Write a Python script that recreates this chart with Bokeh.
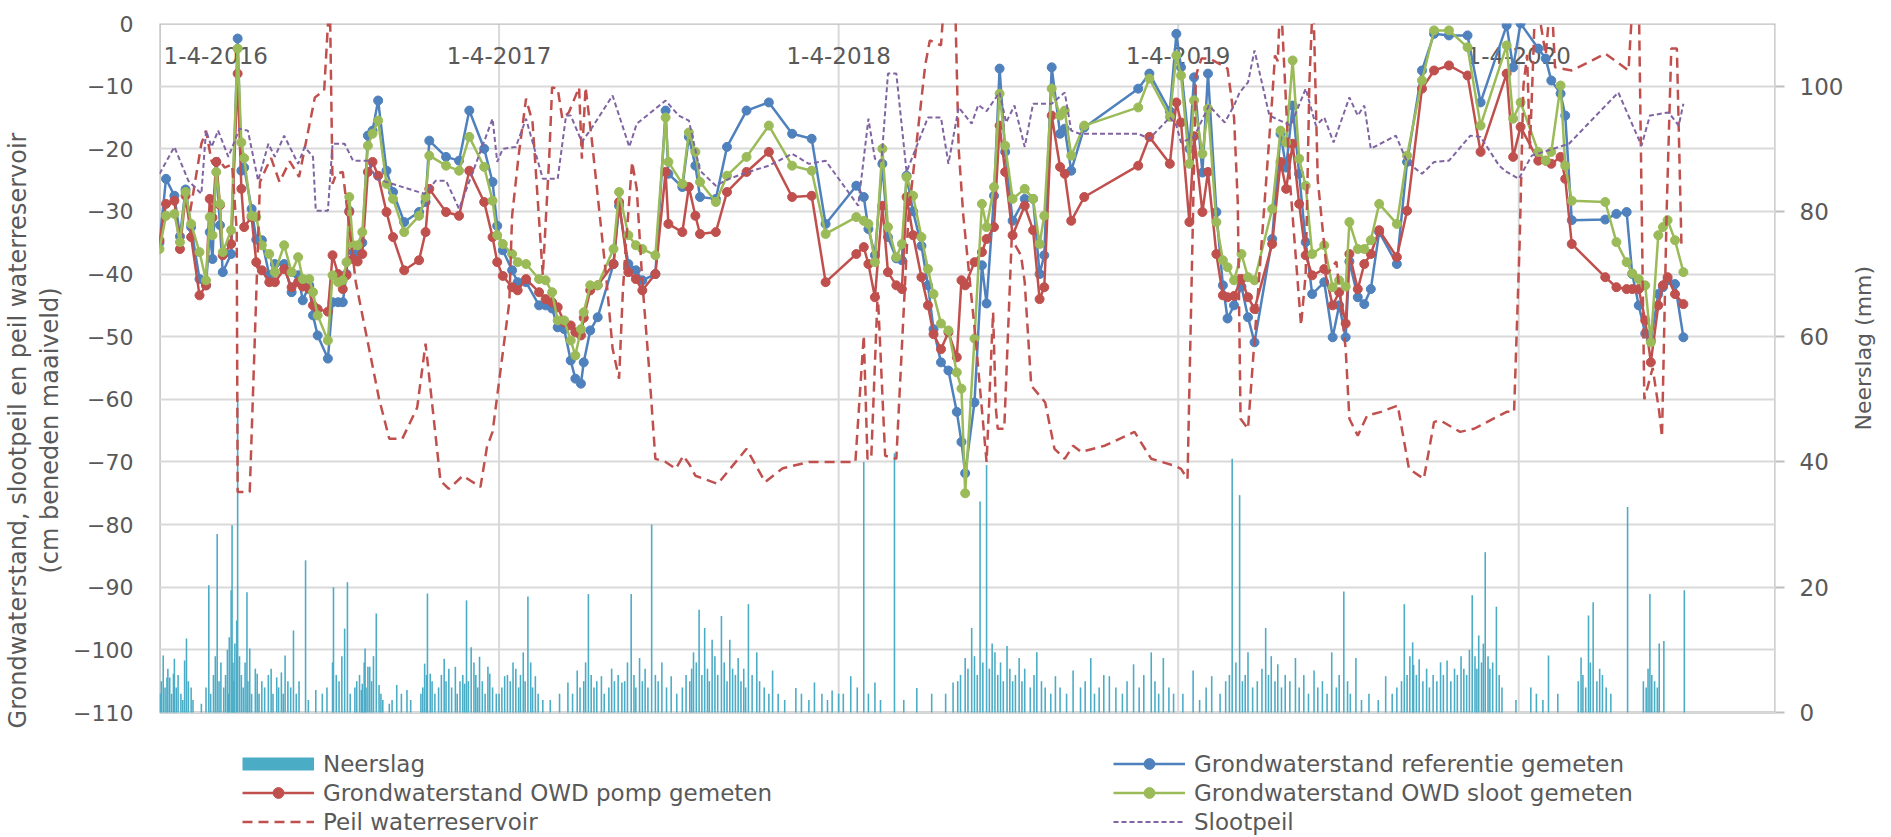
import math
import numpy as np
import pandas as pd
from bokeh.plotting import figure
from bokeh.models import (Range1d, LinearAxis, FixedTicker, Grid, Legend, LegendItem, Axis)
from bokeh.core.properties import value
from bokeh.embed import file_html
from bokeh.resources import INLINE

# ---------------- data (days counted from 1-4-2016) ----------------
START = "2016-04-01"
X_END_DAY = 1737
X_TICK_DATES = ["2016-04-01", "2017-04-01", "2018-04-01", "2019-04-01", "2020-04-01"]
X_TICK_LABELS = ["1-4-2016", "1-4-2017", "1-4-2018", "1-4-2019", "1-4-2020"]
Y_LEFT_TICKS = [0, -10, -20, -30, -40, -50, -60, -70, -80, -90, -100, -110]
Y_RIGHT_TICKS = [0, 20, 40, 60, 80, 100]

GW_DAG = [0, 7, 16, 22, 28, 34, 43, 50, 54, 57,
          61, 65, 68, 77, 84, 88, 91, 99, 104, 110,
          118, 124, 134, 142, 149, 154, 161, 165, 170, 181,
          186, 192, 197, 201, 204, 208, 213, 218, 224, 229,
          235, 244, 251, 263, 279, 286, 290, 308, 322, 333,
          349, 358, 363, 369, 379, 385, 394, 408, 415, 422,
          428, 435, 442, 447, 453, 456, 463, 471, 488, 494,
          504, 512, 519, 533, 544, 547, 562, 569, 576, 581,
          598, 610, 631, 655, 680, 701, 716, 749, 757, 762,
          769, 777, 783, 792, 798, 803, 810, 819, 826, 832,
          840, 848, 857, 862, 866, 876, 884, 889, 897, 903,
          909, 917, 930, 939, 946, 951, 959, 968, 973, 980,
          994, 1052, 1064, 1086, 1093, 1098, 1107, 1112, 1121, 1127,
          1136, 1143, 1148, 1155, 1163, 1170, 1177, 1196, 1205, 1211,
          1218, 1225, 1232, 1239, 1252, 1261, 1268, 1275, 1279, 1288,
          1295, 1302, 1311, 1330, 1341, 1357, 1370, 1386, 1406, 1420,
          1448, 1455, 1463, 1482, 1490, 1496, 1506, 1511, 1518, 1554,
          1566, 1577, 1583, 1590, 1597, 1603, 1611, 1616, 1621, 1629,
          1638]
GW_REFERENTIE = [-35, -24.8, -27.5, -34, -26.5, -32.5, -40.8, -41.8, -33.3, -37.6,
                 -22.1, -32.2, -39.7, -36.8, -2.4, -23.5, -23, -29.6, -34.5, -34.6,
                 -40.2, -38.4, -38.4, -42.9, -40.2, -44.2, -41.8, -46.6, -49.8, -53.5,
                 -44.5, -44.5, -44.5, -40, -29.9, -36.5, -37, -35, -17.9, -17.1,
                 -12.3, -23.5, -26.9, -31.7, -30.1, -28.5, -18.7, -21.3, -21.9, -13.9,
                 -20, -25.3, -32.3, -36.2, -39.4, -41.3, -41.3, -45, -45, -45.5,
                 -48.5, -48.8, -53.8, -56.7, -57.5, -54.1, -49, -46.9, -38.4, -29.1,
                 -38.4, -39.4, -41, -40, -13.9, -24, -26.1, -18.1, -22.7, -27.7,
                 -28, -19.7, -13.9, -12.6, -17.6, -18.4, -32, -25.9, -27.7, -32.8,
                 -37, -22.4, -34.1, -37.5, -37.8, -24.3, -30, -35.5, -41.8, -48.8,
                 -54.1, -55.4, -62, -66.8, -71.8, -60.5, -38.6, -44.7, -27.5, -7.2,
                 -20.5, -31.5, -28, -28, -40, -37, -7, -17.6, -16.8, -23.5,
                 -16.6, -10.4, -8, -14, -1.65, -7, -20, -8.6, -23.8, -8,
                 -30.1, -41.8, -47.1, -45, -42, -46.9, -50.9, -34.4, -17.6, -23,
                 -13.1, -24, -34.9, -43.2, -41.3, -50.1, -45, -50.1, -38, -43.7,
                 -44.8, -42.4, -33.3, -38.4, -22.1, -7.5, -1.65, -1.9, -1.9, -12.6,
                 -0.3, -7, 0, -4, -5.6, -9.1, -11.2, -14.7, -31.4, -31.3,
                 -30.4, -30.1, -40, -45, -49.5, -50.6, -43.2, -42.1, -41, -41.6,
                 -50.1]
GW_POMP = [-34.6, -28.8, -28.3, -36, -27.5, -34.1, -43.4, -41.8, -28, -31,
           -22.1, -29, -37, -35.2, -8, -26.4, -32.5, -30.9, -38.1, -39.4,
           -41.3, -41.3, -39.2, -42.1, -41.3, -42, -42.4, -45, -45.6, -46,
           -37, -40, -42.4, -40.2, -30.1, -37.6, -38, -36.8, -23.7, -22.1,
           -24.3, -30.1, -34.1, -39.4, -37.8, -33.3, -26.4, -30.1, -30.7, -23.5,
           -28.5, -34.1, -38.1, -40.3, -42.1, -42.6, -40.8, -42.9, -44, -44.5,
           -45.3, -47.7, -48.2, -49.3, -49.8, -47, -42.6, -41.8, -38.4, -28.5,
           -39.7, -40.8, -42.6, -40, -23.7, -32, -33.3, -26.1, -30.7, -33.6,
           -33.3, -26.9, -23.7, -20.5, -27.7, -27.5, -41.3, -36.8, -35.7, -38.4,
           -43.7, -29.1, -39.7, -41.8, -42.4, -27.7, -33.8, -40.5, -45, -49.6,
           -52, -49.3, -53.3, -41, -41.8, -38.1, -36.5, -34.4, -32.5, -16.3,
           -23.7, -33.8, -29.1, -33, -44, -42.1, -14.7, -22.9, -24, -31.5,
           -27.7, -22.7, -18.1, -22.4, -12.6, -15.8, -31.7, -18, -30.1, -23.7,
           -36.8, -43.4, -43.7, -43.5, -40.8, -43.7, -45.6, -35.2, -22.1, -26.4,
           -19.2, -28.8, -37, -40.2, -39.2, -45, -42.9, -47.9, -36.8, -42.4,
           -38.4, -36.8, -33, -37.3, -29.9, -10.4, -7.5, -6.7, -8.3, -20.5,
           -8, -21.3, -16.5, -21.9, -21.9, -22.4, -21.3, -24.8, -35.2, -40.5,
           -42.1, -42.4, -42.4, -42.4, -47.4, -54.1, -45, -41.8, -40.5, -43.2,
           -44.8]
GW_SLOOT = [-36, -30.7, -30.4, -34.9, -26.9, -32, -36.5, -41, -30.9, -33.8,
            -23.7, -28.8, -36.5, -33, -4, -19, -21.5, -30.7, -30.9, -35.4,
            -36.8, -39.7, -35.4, -39.7, -37.3, -40.8, -40.8, -42.9, -46.6, -50.6,
            -40.2, -41.3, -41, -38.1, -27.7, -35.4, -35.4, -33.3, -19.5, -17.6,
            -15.5, -25.6, -28, -33.3, -30.7, -27.7, -21.1, -22.7, -23.5, -18.1,
            -22.9, -28.3, -33.8, -35.2, -36.8, -38.1, -38.4, -40.8, -41, -42.9,
            -47.4, -47.4, -50.6, -53, -48.8, -46.1, -41.8, -41.8, -36, -26.9,
            -33.8, -35.4, -36, -37, -15, -22.1, -25.6, -17.4, -20.5, -25.3,
            -28.5, -24.3, -21.3, -16.3, -22.7, -23.5, -33.6, -30.9, -31.5, -32,
            -38.1, -20, -32.5, -37.3, -35.2, -24.5, -27.5, -34.1, -39.2, -43.2,
            -47.9, -49, -55.7, -58.3, -75, -50.3, -28.8, -32.5, -26.1, -11.2,
            -19.5, -28, -26.4, -28, -35.2, -30.7, -10.4, -14.7, -13.9, -21.1,
            -16.3, -13.4, -8.8, -14.9, -5.1, -8.3, -22.4, -12.3, -20.8, -13.6,
            -31.7, -37.8, -38.9, -41, -36.8, -40.5, -41, -29.6, -17.1, -19,
            -5.9, -21.6, -25.9, -36.8, -35.4, -42.1, -41, -42, -31.7, -36,
            -36, -34.6, -28.8, -32, -21.1, -9.1, -1.1, -1.1, -3.8, -16.3,
            -3.5, -15.2, -12.6, -20.5, -21.9, -20.5, -9.9, -22.7, -28.3, -28.5,
            -34.9, -38.1, -39.9, -40.8, -41.8, -50.9, -33.8, -32.5, -31.4, -34.6,
            -39.7]

RES_DAG = [33, 45, 50, 56, 63, 70, 78, 83, 84, 97,
           108, 115, 120, 129, 140, 147, 150, 167, 177, 183,
           186, 190, 197, 211, 236, 247, 261, 277, 286, 302,
           311, 326, 345, 352, 358, 376, 379, 386, 394, 401,
           412, 419, 422, 428, 433, 440, 451, 454, 458, 465,
           480, 487, 494, 498, 501, 508, 513, 519, 526, 533,
           544, 555, 563, 570, 576, 600, 631, 651, 670, 698,
           748, 757, 761, 765, 772, 780, 792, 805, 823, 828,
           840, 844, 855, 859, 864, 877, 889, 896, 899, 901,
           908, 916, 926, 930, 937, 952, 962, 973, 982, 991,
           1016, 1048, 1066, 1091, 1098, 1105, 1114, 1120, 1129, 1148,
           1155, 1159, 1162, 1170, 1196, 1199, 1202, 1205, 1215, 1227,
           1232, 1236, 1240, 1245, 1255, 1265, 1275, 1279, 1288, 1298,
           1313, 1331, 1343, 1359, 1370, 1377, 1398, 1413, 1448, 1456,
           1462, 1466, 1470, 1473, 1476, 1479, 1490, 1496, 1500, 1518,
           1540, 1554, 1579, 1584, 1590, 1596, 1605, 1612, 1615, 1620,
           1625, 1631, 1636]
PEIL_WATERRESERVOIR = [-30, -19.2, -17.1, -22, -21.5, -23, -22.5, -33, -74.8, -74.8,
                       -25.3, -23, -21.5, -25.3, -22, -23.7, -24.5, -11.8, -10.7, 5,
                       -25.6, -24, -23.7, -41.3, -59.9, -66.3, -66.3, -61.3, -51.1, -73,
                       -74.3, -72.2, -74, -67.6, -65.2, -44.5, -30.7, -21.1, -12, -15.8,
                       -40.2, -21.1, -10.2, -10.4, -15.2, -14.2, -10.2, -21.6, -10.2, -19,
                       -40.2, -51.9, -56.7, -42.9, -36, -22.1, -26.4, -41.3, -54.6, -69.5,
                       -70, -71.1, -69, -70.5, -72.2, -73.5, -67.9, -73.2, -71, -70,
                       -70, -49.8, -69.5, -69.5, -42.9, -69, -69.5, -30.7, -6.7, -2.7,
                       -3.5, 5, 5, -20, -30.7, -50, -70, -46.1, -61.5, -64.7,
                       -64.7, -34.4, -37, -41.3, -57.8, -60.5, -67.9, -69.5, -67.4, -68.4,
                       -67.4, -65.2, -69.5, -70.6, -71.1, -72.7, -8.3, -5.6, -5.6, -7.2,
                       -15, -28.5, -63.1, -64.7, -12, -5.1, -6, 5, -25, -48.2,
                       -40, -9.4, 5, -25, -40, -38, -52, -63.1, -65.8, -62.6,
                       -62, -61, -71.1, -72.7, -63.6, -63.4, -65.2, -64.7, -62, -62,
                       -35, -10, -5, -20, -8, 5, -5, 5, -7, -7.5,
                       -5.9, -4.8, -7.5, 5, 5, -60, -55, -62, -66, -30,
                       -4, -4, -36]

SLOOT_DAG = [0, 16, 31, 45, 50, 56, 63, 74, 81, 86,
             95, 106, 117, 124, 134, 149, 156, 165, 168, 181,
             186, 199, 208, 224, 233, 285, 297, 308, 322, 358,
             363, 369, 383, 394, 412, 428, 437, 442, 454, 465,
             487, 505, 513, 544, 558, 569, 581, 598, 612, 633,
             655, 680, 698, 716, 751, 762, 769, 776, 783, 792,
             803, 826, 840, 848, 859, 866, 873, 880, 889, 903,
             910, 919, 930, 939, 959, 973, 980, 989, 1052, 1064,
             1086, 1093, 1098, 1112, 1128, 1145, 1155, 1161, 1170, 1177,
             1193, 1216, 1232, 1243, 1252, 1262, 1279, 1288, 1295, 1302,
             1329, 1341, 1357, 1370, 1386, 1409, 1420, 1440, 1448, 1461,
             1475, 1515, 1568, 1593, 1602, 1622, 1633, 1638]
SLOOTPEIL = [-24, -19.7, -25.1, -27.2, -17.1, -19.7, -17.1, -21.3, -18.7, -16.8,
             -17.1, -25.1, -19.2, -21.3, -17.9, -22.4, -19.7, -21.3, -29.9, -29.9,
             -19.2, -19.2, -21.9, -21.9, -24.8, -27.2, -25.1, -25.1, -29.6, -15.2,
             -22.1, -20, -19.7, -15.2, -24.8, -24.8, -14.7, -14.7, -18.9, -16.6,
             -11.5, -19.7, -16, -12.3, -14.7, -15.5, -23.5, -25.9, -24.8, -23.7,
             -22.7, -20.8, -22.4, -21.9, -29.1, -15.2, -21.6, -22, -8, -8,
             -23.7, -15, -15, -22.4, -13.4, -14.7, -16, -13, -14, -11,
             -15.8, -13.1, -19.7, -12.8, -12.8, -11, -17.1, -17.6, -17.6, -18.4,
             -15, -16.3, -19, -18.1, -13.1, -15.8, -13.1, -11, -9.4, -4.3,
             -14.7, -16.3, -10.4, -16.3, -15, -19, -11.8, -14.7, -13.1, -20,
             -17.9, -22.1, -24, -22.1, -21.9, -17.9, -18.1, -22.7, -23.7, -24.8,
             -21.1, -19.2, -11, -19.5, -14.7, -14.2, -16.3, -12.8]

# daily precipitation: larger showers
NEERSLAG_DAG = [4, 8, 11, 15, 16, 27, 29, 34, 45, 50,
                53, 55, 62, 74, 77, 78, 80, 83, 84, 94,
                97, 103, 105, 120, 126, 131, 135, 144, 157, 168,
                186, 187, 199, 202, 217, 218, 221, 224, 226, 233,
                236, 247, 255, 266, 281, 285, 288, 291, 306, 311,
                318, 328, 330, 335, 338, 344, 353, 355, 371, 380,
                391, 396, 404, 439, 449, 461, 475, 497, 507, 516,
                529, 540, 550, 574, 580, 586, 594, 604, 613, 622,
                633, 642, 659, 684, 704, 723, 743, 757, 769, 790,
                814, 853, 866, 873, 882, 889, 898, 911, 924, 943,
                963, 982, 1001, 1021, 1047, 1066, 1079, 1111, 1131, 1153,
                1161, 1170, 1189, 1202, 1221, 1241, 1260, 1273, 1286, 1318,
                1338, 1347, 1348, 1354, 1384, 1411, 1418, 1425, 1437, 1493,
                1528, 1536, 1541, 1578, 1602, 1612, 1617, 1639]
NEERSLAG_MM = [9.1, 5.6, 5.6, 6.2, 8.6, 8.3, 11.8, 4, 1.4, 4,
               20.3, 3, 28.5, 3, 19.5, 29.9, 5, 14.7, 50, 19.2,
               10.2, 7, 6.2, 7, 5.6, 6.4, 9.1, 13.1, 24.3, 3.6,
               8, 20, 13.4, 20.8, 3.6, 4.6, 10.2, 7.3, 7.3, 15.8,
               4.4, 1.4, 4.4, 3.6, 3, 7.8, 19, 6.2, 8.6, 7,
               7.3, 4.6, 17.9, 10.4, 8, 8.9, 7.3, 6.2, 5.8, 8,
               9.6, 18.5, 5.8, 4.8, 6.7, 18.9, 5.8, 4.8, 18.9, 8.7,
               30, 8, 5.8, 9.6, 16.4, 13.5, 11.6, 15.4, 11.6, 8.7,
               17.3, 9.6, 6.7, 3.9, 4.8, 3.5, 5.8, 40, 4.8, 41.4,
               3.9, 4.8, 8.7, 13.5, 33.7, 39.5, 9.6, 10.6, 8.7, 9.6,
               5.8, 6.7, 8.7, 5.8, 7.7, 9.6, 8.7, 6.7, 5.8, 40.5,
               34.7, 9.6, 13.5, 7.7, 8.7, 6.7, 9.6, 19.3, 8.7, 5.8,
               17.3, 11.2, 7.6, 8.5, 8.3, 18.7, 12.3, 25.6, 16.9, 9.1,
               8.8, 15.5, 17.6, 32.8, 18.9, 11, 11.4, 19.5]
# daily precipitation: the many small showers in the wet periods
NEERSLAG_DAG_KLEIN = [1, 2, 6, 9, 13, 18, 20, 23, 25, 31, 36,
                      58, 60, 64, 66, 69, 71, 73, 75, 79, 81, 86, 88, 90, 92, 95, 99,
                      107, 110, 113, 117, 122, 128, 133, 138, 141, 147, 150,
                      160, 175, 180, 190, 193, 196, 205, 210, 212, 215, 220, 222, 228, 230, 238, 240,
                      250, 260, 270, 283, 287, 293, 296, 300, 303, 308, 314, 320, 323, 326, 332,
                      340, 342, 347, 350, 358, 362,
                      365, 368, 374, 377, 383, 386, 388, 393, 399, 401, 407, 412, 420, 430, 444,
                      452, 456, 458, 464, 467, 470, 478, 483, 486, 489, 493, 500, 503, 510, 512,
                      519, 522, 525, 533, 536, 545, 556, 562, 566, 570, 572, 577, 583, 589, 591,
                      597, 600, 607, 610, 616, 619, 625, 628, 630, 637, 645, 650, 655, 665, 672,
                      690, 698, 712, 718, 730, 735, 750, 762, 775, 800, 830, 845, 858, 861, 869,
                      876, 879, 885, 892, 895, 901, 904, 907, 914, 917, 920, 927, 930, 936, 940,
                      948, 952, 958, 968, 975, 990, 995, 1005, 1010, 1015, 1028, 1035, 1040, 1053,
                      1058, 1070, 1074, 1085, 1090, 1100, 1118, 1125, 1140, 1146, 1150, 1157, 1164,
                      1167, 1175, 1180, 1185, 1192, 1195, 1199, 1206, 1210, 1215, 1225, 1230, 1235,
                      1245, 1250, 1255, 1265, 1268, 1277, 1280, 1292, 1300, 1310, 1325, 1330, 1335,
                      1341, 1344, 1351, 1358, 1362, 1365, 1369, 1373, 1377, 1380, 1388, 1392, 1395,
                      1399, 1402, 1405, 1408, 1414, 1416, 1421, 1423, 1428, 1430, 1433, 1440, 1443,
                      1458, 1474, 1480, 1487, 1503, 1525, 1530, 1533, 1538, 1545, 1548, 1551, 1555,
                      1560, 1595, 1598, 1600, 1604, 1607, 1610]
NEERSLAG_MM_KLEIN = [3, 5, 4, 7, 3, 4, 6, 3, 2, 5, 2,
                     6, 9, 5, 8, 4, 6, 10, 12, 8, 11, 9, 6, 4, 8, 5, 3,
                     3, 5, 4, 6, 3, 4, 3, 5, 4, 3, 5,
                     2, 3, 4, 6, 5, 9, 3, 4, 5, 6, 8, 4, 5, 9, 3, 2,
                     2, 3, 2, 4, 6, 5, 3, 4, 6, 5, 4, 3, 5, 6, 5,
                     6, 4, 5, 3, 4, 3,
                     3, 4, 6, 5, 7, 4, 6, 5, 8, 4, 3, 2, 2, 3, 3,
                     4, 5, 8, 6, 4, 5, 3, 4, 7, 5, 6, 5, 8, 6, 4,
                     5, 7, 4, 6, 5, 4, 3, 4, 6, 5, 7, 8, 6, 7, 5,
                     9, 6, 8, 5, 7, 6, 5, 7, 4, 6, 5, 4, 3, 3, 2,
                     3, 2, 3, 2, 3, 3, 4, 3, 2, 2, 3, 3, 5, 6, 7,
                     9, 6, 8, 7, 11, 6, 8, 5, 7, 5, 6, 5, 7, 4, 6,
                     5, 4, 3, 4, 3, 4, 5, 3, 4, 6, 4, 3, 5, 4,
                     6, 5, 3, 4, 3, 3, 2, 4, 3, 5, 6, 8, 5,
                     6, 4, 5, 7, 6, 9, 5, 4, 6, 5, 4, 6, 3,
                     4, 5, 3, 4, 6, 5, 3, 2, 3, 2, 3, 4, 5,
                     6, 9, 6, 5, 7, 4, 6, 5, 8, 6, 5, 7, 6,
                     9, 7, 6, 10, 9, 7, 8, 11, 9, 7, 8, 6, 4,
                     2, 4, 3, 2, 3, 5, 6, 4, 8, 5, 7, 6, 4,
                     3, 5, 4, 7, 6, 5, 4]

# ---------------- helpers ----------------
T0 = pd.Timestamp(START)
DAY_MS = 86400000.0


def to_ms(days):
    return [(T0 + pd.Timedelta(days=float(d))).value / 1e6 for d in days]


def pair(a, b):
    n = min(len(a), len(b))
    return to_ms(a[:n]), list(b[:n])


FONT = "DejaVu Sans"
TXT = "#595959"
GRID = "#d9d9d9"
BORDER = "#bfbfbf"
RED, BLUE, GREEN, PURPLE, TEAL = "#c0504d", "#4f81bd", "#9bbb59", "#8064a2", "#4bacc6"

# page geometry: plot area 689 px high for 110 cm; the frame continues below the
# plot area down to the page bottom so that the legend can live inside it
FIG_W, FIG_H = 1891, 837
TOP = 23
PLOT_H = 689.0
BELOW_PX = FIG_H - TOP - PLOT_H
Y_MIN, Y_MAX = min(Y_LEFT_TICKS), max(Y_LEFT_TICKS)
PX_PER_UNIT = PLOT_H / (Y_MAX - Y_MIN)
y_low = Y_MIN - BELOW_PX / PX_PER_UNIT
R_MAX = 110
r_low = 0 - BELOW_PX / PX_PER_UNIT

x_start = to_ms([0])[0]
x_end = to_ms([X_END_DAY])[0]

p = figure(width=FIG_W, height=FIG_H, output_backend="svg", toolbar_location=None,
           x_axis_type=None, y_axis_type=None,
           x_range=Range1d(x_start, x_end), y_range=Range1d(y_low, Y_MAX),
           min_border_left=158, min_border_right=113, min_border_top=TOP, min_border_bottom=0,
           background_fill_color="white", border_fill_color="white")
p.outline_line_color = None
p.extra_y_ranges = {"rain": Range1d(r_low, R_MAX)}

# horizontal grid lines
p.add_layout(Grid(dimension=1, ticker=FixedTicker(ticks=Y_LEFT_TICKS),
                  grid_line_color=GRID, grid_line_width=2))
# vertical grid lines only over the plot area
xt_ms = to_ms([(pd.Timestamp(d) - T0).days for d in X_TICK_DATES])
p.segment(x0=xt_ms, y0=[Y_MIN] * len(xt_ms), x1=xt_ms, y1=[Y_MAX] * len(xt_ms),
          line_color=GRID, line_width=2, level="underlay")
# plot-area border
p.segment(x0=[x_start, x_start, x_start, x_end], y0=[Y_MAX, Y_MIN, Y_MIN, Y_MIN],
          x1=[x_end, x_end, x_start, x_end], y1=[Y_MAX, Y_MIN, Y_MAX, Y_MAX],
          line_color=BORDER, line_width=2.5, level="underlay")

# left axis
yax = LinearAxis(ticker=FixedTicker(ticks=Y_LEFT_TICKS), bounds=(Y_MIN, Y_MAX),
                 axis_label="Grondwaterstand, slootpeil en peil waterreservoir\n(cm beneden maaiveld)")
yax.axis_line_color = None
yax.major_tick_line_color = None
yax.minor_tick_line_color = None
yax.major_label_text_font = FONT
yax.major_label_text_font_size = "22px"
yax.major_label_text_color = TXT
yax.major_label_standoff = 20
yax.axis_label_text_font = FONT
yax.axis_label_text_font_size = "24px"
yax.axis_label_text_font_style = "normal"
yax.axis_label_text_color = TXT
yax.axis_label_text_line_height = 1.15
yax.axis_label_standoff = 6
p.add_layout(yax, "left")

# right axis
rax = LinearAxis(y_range_name="rain", ticker=FixedTicker(ticks=Y_RIGHT_TICKS), bounds=(0, R_MAX),
                 axis_label="Neerslag (mm)")
rax.axis_line_color = None
rax.major_tick_line_color = BORDER
rax.major_tick_line_width = 2
rax.major_tick_out = 9
rax.major_tick_in = 0
rax.minor_tick_line_color = None
rax.major_label_text_font = FONT
rax.major_label_text_font_size = "23px"
rax.major_label_text_color = TXT
rax.major_label_standoff = 15
rax.axis_label_text_font = FONT
rax.axis_label_text_font_size = "22px"
rax.axis_label_text_font_style = "normal"
rax.axis_label_text_color = TXT
rax.axis_label_standoff = 17
if "axis_label_orientation" in Axis.properties():
    rax.axis_label_orientation = math.pi / 2
p.add_layout(rax, "right")

# date labels just under the top border (inside the plot area, as in the original)
p.text(x=xt_ms[:1], y=[Y_MAX], text=X_TICK_LABELS[:1], x_offset=4, y_offset=32,
       text_align="left", text_baseline="middle", text_font=value(FONT),
       text_font_size="23px", text_color=TXT)
p.text(x=xt_ms[1:], y=[Y_MAX] * (len(xt_ms) - 1), text=X_TICK_LABELS[1:], y_offset=32,
       text_align="center", text_baseline="middle", text_font=value(FONT),
       text_font_size="23px", text_color=TXT)

# ---------------- glyphs ----------------
rx, ry = pair(NEERSLAG_DAG, NEERSLAG_MM)
rx2, ry2 = pair(NEERSLAG_DAG_KLEIN, NEERSLAG_MM_KLEIN)
p.vbar(x=rx + rx2, top=ry + ry2, bottom=0, width=1.7 * DAY_MS, y_range_name="rain",
       fill_color=TEAL, line_color=None)
# legend swatch for the precipitation (a thick short bar, like the original legend)
rain_leg = p.line(x=[x_start], y=[float("nan")], line_width=13, line_color=TEAL, line_cap="butt")

series = {}
for name, vals, col in [("ref", GW_REFERENTIE, BLUE), ("pomp", GW_POMP, RED), ("sloot", GW_SLOOT, GREEN)]:
    gx, gy = pair(GW_DAG, vals)
    l = p.line(x=gx, y=gy, line_color=col, line_width=2.5)
    s = p.scatter(x=gx, y=gy, size=9, fill_color=col, line_color=col)
    series[name] = [l, s]

px_, py_ = pair(RES_DAG, PEIL_WATERRESERVOIR)
res_r = p.line(x=px_, y=py_, line_color=RED, line_width=2.5, line_dash="10 6")
sx_, sy_ = pair(SLOOT_DAG, SLOOTPEIL)
sl_r = p.line(x=sx_, y=sy_, line_color=PURPLE, line_width=2, line_dash="5 3")


# ---------------- legends ----------------
def make_legend(items, loc):
    return Legend(items=items, location=loc, orientation="vertical",
                  label_text_font=FONT, label_text_font_size="23px", label_text_color=TXT,
                  glyph_width=72, glyph_height=27, label_height=27, label_standoff=9,
                  spacing=2, padding=0, margin=0,
                  background_fill_alpha=0, border_line_alpha=0)


leg1 = make_legend([
    LegendItem(label="Neerslag", renderers=[rain_leg]),
    LegendItem(label="Grondwaterstand OWD pomp gemeten", renderers=series["pomp"]),
    LegendItem(label="Peil waterreservoir", renderers=[res_r]),
], (83, 2))
leg2 = make_legend([
    LegendItem(label="Grondwaterstand referentie gemeten", renderers=series["ref"]),
    LegendItem(label="Grondwaterstand OWD sloot gemeten", renderers=series["sloot"]),
    LegendItem(label="Slootpeil", renderers=[sl_r]),
], (954, 2))
p.add_layout(leg1)
p.add_layout(leg2)

open("out.html", "w").write(file_html(p, INLINE))
